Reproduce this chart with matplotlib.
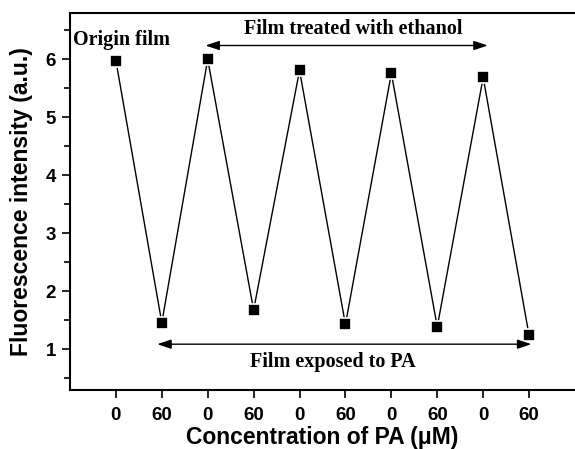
import numpy as np
import matplotlib.pyplot as plt

# Fluorescence intensity over repeated PA exposure / ethanol wash cycles
positions = np.arange(1, 11)
tick_labels = ['0', '60', '0', '60', '0', '60', '0', '60', '0', '60']
intensity = [5.98, 1.46, 6.00, 1.68, 5.81, 1.43, 5.76, 1.39, 5.69, 1.24]

fig = plt.figure(figsize=(5.75, 4.49), dpi=100)
ax = fig.add_axes([0.1217, 0.1314, 0.8783, 0.8396])

ax.plot(positions, intensity, color='black', lw=1.0, zorder=1)
ax.plot(positions, intensity, 's', color='black', ms=9,
        mec='white', mew=1.2, lw=0, zorder=2)

ax.set_xlim(0, 11)
ax.set_ylim(0.3, 6.8)
ax.set_xticks(positions)
ax.set_xticklabels(tick_labels)
ax.set_yticks([1, 2, 3, 4, 5, 6])
ax.set_yticks(np.arange(0.5, 6.6, 0.5), minor=True)

for lab in ax.get_xticklabels() + ax.get_yticklabels():
    lab.set_fontfamily('Liberation Sans')
    lab.set_fontweight('bold')
ax.tick_params(axis='both', which='major', labelsize=13.5, length=6, width=1.2)
ax.tick_params(axis='y', which='minor', length=4, width=1.2)
ax.tick_params(axis='x', pad=6)
ax.tick_params(axis='y', pad=4)

for s in ['left', 'bottom', 'top']:
    ax.spines[s].set_linewidth(1.5)
ax.spines['right'].set_visible(False)

ax.set_xlabel('Concentration of PA (μM)', fontfamily='Liberation Sans',
              fontweight='bold', fontsize=16.5, labelpad=2)
ax.set_ylabel('Fluorescence intensity (a.u.)', fontfamily='Liberation Sans',
              fontweight='bold', fontsize=16.5, labelpad=9)

serif = dict(fontfamily='Liberation Serif', fontweight='bold', fontsize=14.5)
ax.text(0.07, 6.33, 'Origin film', ha='left', va='center', **serif)

arrow = dict(arrowstyle='<|-|>,head_length=0.6,head_width=0.2', color='black',
             lw=1.0, mutation_scale=14, shrinkA=0, shrinkB=0)
ax.annotate('', xy=(2.95, 6.24), xytext=(9.1, 6.24), arrowprops=arrow)
ax.text(6.17, 6.53, 'Film treated with ethanol', ha='center', va='center', **serif)

ax.annotate('', xy=(1.9, 1.09), xytext=(10.05, 1.09), arrowprops=arrow)
ax.text(5.72, 0.78, 'Film exposed to PA', ha='center', va='center', **serif)

fig.savefig('out.png', dpi=100)
